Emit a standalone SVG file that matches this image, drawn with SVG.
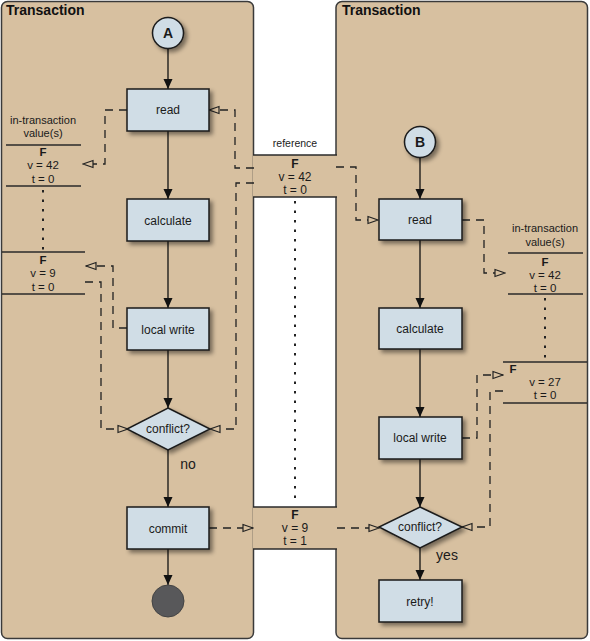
<svg xmlns="http://www.w3.org/2000/svg" width="590" height="641" viewBox="0 0 590 641">
<style>
.panel{fill:#d7c0a0;stroke:#3a3a3a;stroke-width:1.5}
.box{fill:#d0dde6;stroke:#1a1a1a;stroke-width:1.5}
.t{font-family:"Liberation Sans",Arial,sans-serif;font-size:12px;fill:#1a1a1a;text-anchor:middle}
.v{font-size:11.5px}
.b{font-weight:bold}
.title{font-family:"Liberation Sans",Arial,sans-serif;font-size:14px;font-weight:bold;fill:#111}
.flow{stroke:#111;stroke-width:1.3;fill:none;marker-end:url(#solid)}
.dash{stroke:#222;stroke-width:1.3;fill:none;stroke-dasharray:8,6;marker-end:url(#open)}
.dot{stroke:#222;stroke-width:2;fill:none;stroke-dasharray:2.5,7}
.rule{stroke:#2a2a2a;stroke-width:1.5}
</style>
<defs>
<filter id="sh" x="-20%" y="-20%" width="150%" height="160%">
<feDropShadow dx="3" dy="3" stdDeviation="2" flood-color="#000" flood-opacity="0.45"/>
</filter>
<marker id="solid" markerWidth="10" markerHeight="10" refX="10" refY="5" orient="auto" markerUnits="userSpaceOnUse">
<path d="M0,0.5 L10,5 L0,9.5 Z" fill="#111"/>
</marker>
<marker id="open" markerWidth="12" markerHeight="10" refX="11" refY="5" orient="auto" markerUnits="userSpaceOnUse">
<path d="M1,1.5 L11,5 L1,8.5 Z" fill="#d7c0a0" stroke="#222" stroke-width="1.2"/>
</marker>
</defs>
<rect x="0" y="0" width="590" height="641" fill="#ffffff"/>
<g id="panel-left">
<rect class="panel" x="1.5" y="1.5" width="252" height="637" rx="6"/>
<text class="title" x="6" y="15">Transaction</text>
</g>
<g id="panel-right">
<rect class="panel" x="336" y="1.5" width="251.5" height="637" rx="6"/>
<text class="title" x="342" y="15">Transaction</text>
</g>
<g id="reference">
<text class="t" x="295" y="147" style="font-size:10.5px">reference</text>
<rect x="253" y="155" width="84" height="42" fill="#d7c0a0"/>
<line class="rule" x1="253" y1="155" x2="337" y2="155"/>
<line class="rule" x1="253" y1="197" x2="337" y2="197"/>
<text class="t b" x="295" y="168">F</text>
<text class="t" x="295" y="181">v = 42</text>
<text class="t" x="295" y="194">t = 0</text>
</g>
<g id="reference-final">
<rect x="253" y="507" width="84" height="42" fill="#d7c0a0"/>
<line class="rule" x1="253" y1="507" x2="337" y2="507"/>
<line class="rule" x1="253" y1="549" x2="337" y2="549"/>
<text class="t b" x="295" y="519">F</text>
<text class="t" x="295" y="532">v = 9</text>
<text class="t" x="295" y="545">t = 1</text>
</g>
<g id="values-left">
<text class="t" x="43" y="124" style="font-size:11px">in-transaction</text>
<text class="t" x="43" y="137" style="font-size:11px">value(s)</text>
<line class="rule" x1="6" y1="145" x2="81" y2="145"/>
<text class="t v b" x="43" y="155.5">F</text>
<text class="t v" x="43" y="168.5">v = 42</text>
<text class="t v" x="43" y="182.5">t = 0</text>
<line class="rule" x1="6" y1="186" x2="81" y2="186"/>
<line class="rule" x1="2" y1="252" x2="85" y2="252"/>
<text class="t v b" x="43" y="263.5">F</text>
<text class="t v" x="43" y="277">v = 9</text>
<text class="t v" x="43" y="291">t = 0</text>
<line class="rule" x1="2" y1="294" x2="85" y2="294"/>
</g>
<g id="values-right">
<text class="t" x="545" y="232" style="font-size:11px">in-transaction</text>
<text class="t" x="545" y="246" style="font-size:11px">value(s)</text>
<line class="rule" x1="508" y1="253" x2="583" y2="253"/>
<text class="t v b" x="545" y="265.5">F</text>
<text class="t v" x="545" y="278.5">v = 42</text>
<text class="t v" x="545" y="292">t = 0</text>
<line class="rule" x1="508" y1="294" x2="583" y2="294"/>
<line class="rule" x1="503" y1="362" x2="587" y2="362"/>
<text class="t v b" x="513" y="373">F</text>
<text class="t v" x="545" y="386">v = 27</text>
<text class="t v" x="545" y="399">t = 0</text>
<line class="rule" x1="503" y1="403" x2="587" y2="403"/>
</g>
<g id="connectors">
<line class="dot" x1="43" y1="190" x2="43" y2="250"/>
<line class="dot" x1="295" y1="201" x2="295" y2="505"/>
<line class="dot" x1="545" y1="298" x2="545" y2="360"/>
<path class="flow" d="M168,49 V89"/>
<path class="flow" d="M168,131 V199"/>
<path class="flow" d="M168,241 V308"/>
<path class="flow" d="M168,350 V408"/>
<path class="flow" d="M168,450 V507"/>
<path class="flow" d="M168,549 V585"/>
<path class="flow" d="M420,158 V199"/>
<path class="flow" d="M420,240 V308"/>
<path class="flow" d="M420,349 V417"/>
<path class="flow" d="M420,459 V507"/>
<path class="flow" d="M420,548 V580"/>
<path class="dash" d="M127,110 H105 V164 H83"/>
<path class="dash" d="M127,328 H113 V266 H86"/>
<path class="dash" d="M85,282 H101 V429 H128"/>
<path class="dash" d="M254,168 H235 V110 H209"/>
<path class="dash" d="M254,183 H236 V429 H210"/>
<path class="dash" d="M336,167 H356 V220 H378"/>
<path class="dash" d="M462,220 H484 V273 H505"/>
<path class="dash" d="M462,438 H477 V375 H503"/>
<path class="dash" d="M503,391 H490 V527 H462"/>
<path class="dash" d="M209,528 H253"/>
<path class="dash" d="M337,528 H379"/>
</g>
<g id="start-a">
<circle cx="168" cy="33" r="15.5" fill="#d0dde6" stroke="#1a1a1a" stroke-width="1.5" filter="url(#sh)"/>
<text class="t b" x="168" y="38" style="font-size:14px">A</text>
</g>
<g id="read-a">
<rect class="box" x="127" y="89" width="82" height="42" filter="url(#sh)"/>
<text class="t" x="168" y="114">read</text>
</g>
<g id="calculate-a">
<rect class="box" x="127" y="199" width="82" height="42" filter="url(#sh)"/>
<text class="t" x="168" y="225">calculate</text>
</g>
<g id="localwrite-a">
<rect class="box" x="127" y="308" width="82" height="42" filter="url(#sh)"/>
<text class="t" x="168" y="334">local write</text>
</g>
<g id="conflict-a">
<polygon class="box" points="168,408 210,429 168,450 127,429" filter="url(#sh)"/>
<text class="t" x="168" y="433">conflict?</text>
<text class="t" x="188" y="469" style="font-size:14px">no</text>
</g>
<g id="commit-a">
<rect class="box" x="127" y="507" width="82" height="42" filter="url(#sh)"/>
<text class="t" x="168" y="533">commit</text>
</g>
<g id="end-a">
<circle cx="168" cy="601" r="16" fill="#58585a" stroke="#444" stroke-width="1"/>
</g>
<g id="start-b">
<circle cx="420" cy="142" r="15.5" fill="#d0dde6" stroke="#1a1a1a" stroke-width="1.5" filter="url(#sh)"/>
<text class="t b" x="420" y="147" style="font-size:14px">B</text>
</g>
<g id="read-b">
<rect class="box" x="379" y="199" width="83" height="41" filter="url(#sh)"/>
<text class="t" x="420" y="224">read</text>
</g>
<g id="calculate-b">
<rect class="box" x="379" y="308" width="83" height="41" filter="url(#sh)"/>
<text class="t" x="420" y="333">calculate</text>
</g>
<g id="localwrite-b">
<rect class="box" x="379" y="417" width="83" height="42" filter="url(#sh)"/>
<text class="t" x="420" y="442">local write</text>
</g>
<g id="conflict-b">
<polygon class="box" points="420,507 462,527 420,548 379,527" filter="url(#sh)"/>
<text class="t" x="420" y="531">conflict?</text>
<text class="t" x="447" y="560" style="font-size:14px">yes</text>
</g>
<g id="retry-b">
<rect class="box" x="379" y="580" width="83" height="42" filter="url(#sh)"/>
<text class="t" x="420" y="606">retry!</text>
</g>
</svg>
